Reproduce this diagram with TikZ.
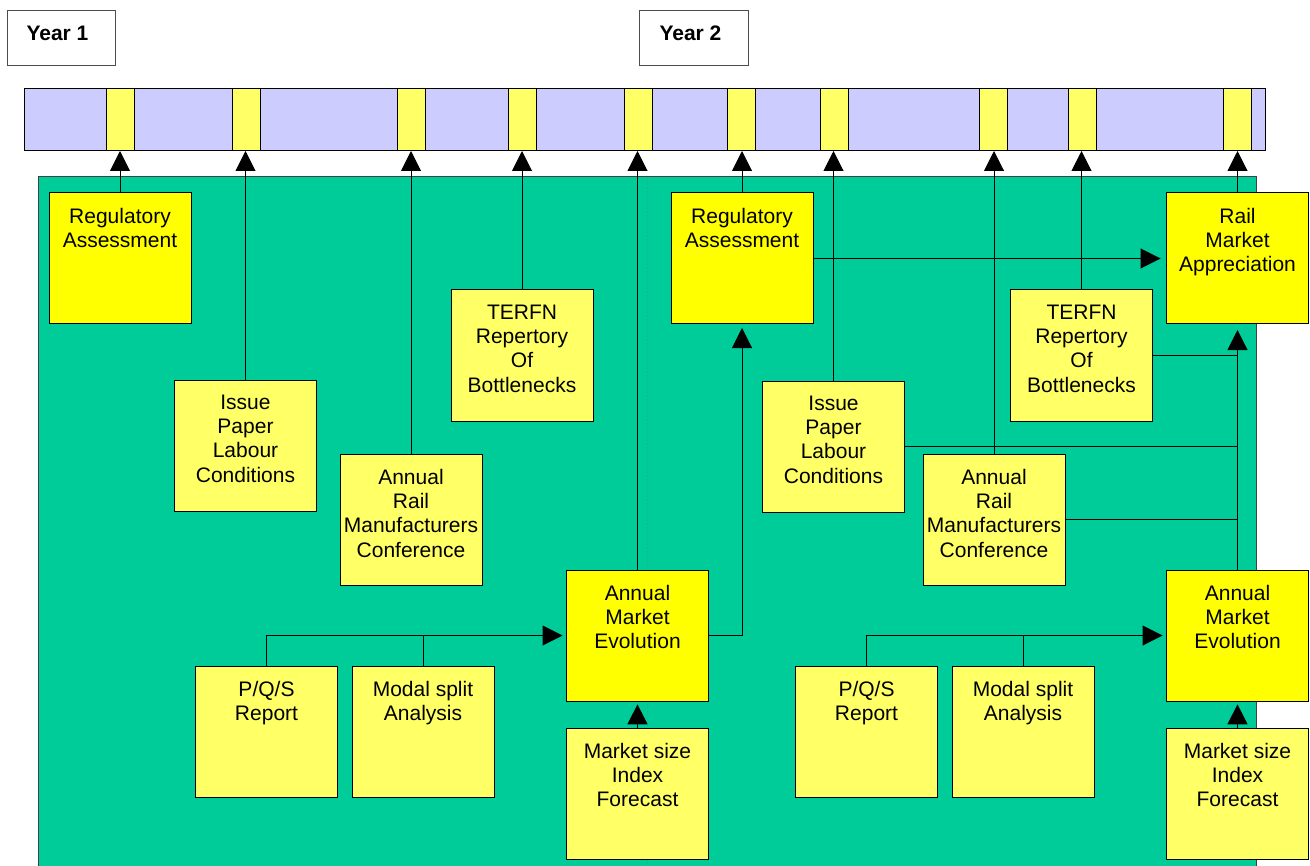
\documentclass[tikz,border=0pt]{standalone}
\usepackage{fontspec}
\setmainfont{Liberation Sans}
\usetikzlibrary{arrows.meta,calc}
\definecolor{barblue}{HTML}{CCCCFF}
\definecolor{seagreen}{HTML}{00CC99}
\definecolor{brightyel}{HTML}{FFFF00}
\definecolor{paleyel}{HTML}{FFFF66}
\definecolor{dotgreen}{HTML}{2FA784}
\newcommand{\mkbox}[5]{%
  \node[#4] (#1) at (#2,#3+65.5) {};
  \node[lbl] (#1-t) at ($(#1.north)+(0,14.5)$) {#5};}
\begin{document}
\begin{tikzpicture}[x=0.75pt,y=-0.75pt,
  line width=0.75pt,
  box/.style={draw=black, minimum width=106.5pt, minimum height=98.25pt, inner sep=0pt, outer sep=0pt},
  hi/.style={box, fill=brightyel},
  lo/.style={box, fill=paleyel},
  lbl/.style={anchor=north, inner sep=0pt, align=center, font=\fontsize{15.75}{18.2}\selectfont},
  conn/.style={draw=black, line width=0.75pt},
  arr/.style={conn, -{Triangle[width=15pt,length=15pt]}},
  seg/.style={draw=black, fill=paleyel, minimum width=21pt, minimum height=46.5pt, inner sep=0pt, outer sep=0pt},
  yearbox/.style={draw=black!70, fill=white, inner sep=0pt, outer sep=0pt},
  yeartxt/.style={anchor=base west, inner sep=0pt, font=\bfseries\fontsize{15.75}{18}\selectfont},
]
\useasboundingbox[fill=white] (0,0) rectangle (1310,866);

% year labels
\node[yearbox, minimum width=81pt, minimum height=41.25pt] (year1) at (61,38.5) {};
\node[yeartxt] (year1-t) at (26,41) {Year 1};
\node[yearbox, minimum width=81.75pt, minimum height=41.25pt] (year2) at (693.5,38.5) {};
\node[yeartxt] (year2-t) at (659,41) {Year 2};

% timeline bar
\node[draw=black, fill=barblue, minimum width=930.75pt, minimum height=46.5pt, inner sep=0pt, outer sep=0pt] (bar) at (644.5,120) {};
\foreach \n/\cx in {s1/120.5, s2/246, s3/411.5, s4/522.5, s5/638, s6/741, s7/834, s8/993, s9/1082, s10/1237.5}
  \node[seg] (\n) at (\cx,120) {};

% green panel
\fill[seagreen] (38,177) rectangle (1256,870);
\draw[black!75] (38,870) -- (38,177) -- (1256,177) -- (1256,870);
\draw[dotgreen, dotted, line width=0.6pt] (647,177) -- (647,870);

% boxes
\mkbox{rega1}{120}{193}{hi}{Regulatory\\Assessment}
\mkbox{issue1}{245.5}{380}{lo}{Issue\\Paper\\Labour\\Conditions}
\mkbox{armc1}{411}{454}{lo}{Annual\\Rail\\Manufacturers\\Conference}
\mkbox{terfn1}{522}{290}{lo}{TERFN\\Repertory\\Of\\Bottlenecks}
\mkbox{ame1}{637.5}{570}{hi}{Annual\\Market\\Evolution}
\mkbox{ms1}{637.5}{728}{lo}{Market size\\Index\\Forecast}
\mkbox{pqs1}{266.5}{666}{lo}{P/Q/S\\Report}
\mkbox{modal1}{423}{666}{lo}{Modal split\\Analysis}
\mkbox{rega2}{742}{193}{hi}{Regulatory\\Assessment}
\mkbox{issue2}{833.5}{381}{lo}{Issue\\Paper\\Labour\\Conditions}
\mkbox{armc2}{994}{454}{lo}{Annual\\Rail\\Manufacturers\\Conference}
\mkbox{terfn2}{1081.5}{290}{lo}{TERFN\\Repertory\\Of\\Bottlenecks}
\mkbox{rma}{1237.5}{193}{hi}{Rail\\Market\\Appreciation}
\mkbox{ame2}{1237.5}{570}{hi}{Annual\\Market\\Evolution}
\mkbox{ms2}{1237.5}{728}{lo}{Market size\\Index\\Forecast}
\mkbox{pqs2}{866.5}{666}{lo}{P/Q/S\\Report}
\mkbox{modal2}{1023}{666}{lo}{Modal split\\Analysis}

% arrows up to the timeline
\foreach \b in {rega1, issue1, armc1, terfn1, ame1, rega2, issue2, armc2, terfn2, rma}
  \draw[arr] (\b.north) -- (\b.north |- bar.south);

% year 1 flows
\draw[arr, shorten >=3pt] (pqs1.north) |- (ame1.west);
\draw[conn] (modal1.north) -- (modal1.north |- ame1.west);
\draw[arr, shorten >=2.5pt] (ms1.north) -- (ame1.south);
\draw[arr, shorten >=3pt] (ame1.east) -| (rega2.south);

% year 2 flows
\draw[arr, shorten >=4.5pt] (rega2.east) -- (rma.west);
\draw[arr, shorten >=3pt] (pqs2.north) |- (ame2.west);
\draw[conn] (modal2.north) -- (modal2.north |- ame2.west);
\draw[arr, shorten >=2.5pt] (ms2.north) -- (ame2.south);
\draw[arr, shorten >=4.5pt] (ame2.north) -- (rma.south);
\draw[conn] (terfn2.east) -- (terfn2.east -| rma.south);
\draw[conn] (issue2.east) -- (issue2.east -| rma.south);
\draw[conn] (armc2.east) -- (armc2.east -| rma.south);
\end{tikzpicture}
\end{document}
